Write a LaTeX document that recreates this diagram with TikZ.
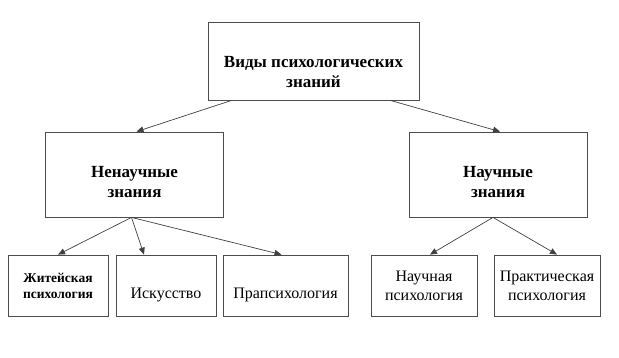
\documentclass[tikz,border=0pt]{standalone}
\usepackage{fontspec}
\setmainfont{Liberation Serif}
\usetikzlibrary{arrows.meta}

\begin{document}
\begin{tikzpicture}[x=1pt, y=-1pt,
    box/.style={rectangle, draw=black!70, line width=0.8pt, inner sep=0pt},
    topbox/.style={box, minimum width=211pt, minimum height=78pt},
    midbox/.style={box, minimum width=178pt, minimum height=85pt},
    lowbox/.style={box, minimum height=61pt},
    headtxt/.style={align=center, font=\fontsize{17}{20}\selectfont\bfseries},
    lowtxt/.style={align=center, font=\fontsize{16}{19}\selectfont},
    smalltxt/.style={align=center, font=\fontsize{13.5}{16}\selectfont\bfseries},
    link/.style={draw=black!75, line width=0.7pt, -{Triangle[length=7pt, width=6pt]}}]
    \useasboundingbox (0,0) rectangle (619,357);

    % boxes
    \node[topbox] (kinds) at (313.5,61) {};
    \node[midbox] (nonsci) at (134.5,174.5) {};
    \node[midbox] (sci) at (498,174.5) {};
    \node[lowbox, minimum width=100pt] (everyday) at (58,285.5) {};
    \node[lowbox, minimum width=100pt] (art) at (166,285.5) {};
    \node[lowbox, minimum width=125pt] (para) at (285.5,285.5) {};
    \node[lowbox, minimum width=106pt] (scipsy) at (424,285.5) {};
    \node[lowbox, minimum width=106pt] (practice) at (547,285.5) {};

    % texts
    \node[headtxt] (kinds-t) at (313.5,72.5) {Виды психологических\\знаний};
    \node[headtxt] (nonsci-t) at (134.5,182) {Ненаучные\\знания};
    \node[headtxt] (sci-t) at (498,182) {Научные\\знания};
    \node[smalltxt] (everyday-t) at (58,286) {Житейская\\психология};
    \node[lowtxt] (art-t) at (166,295) {Искусство};
    \node[lowtxt] (para-t) at (285.5,295) {Прапсихология};
    \node[lowtxt] (scipsy-t) at (424,286) {Научная\\психология};
    \node[lowtxt] (practice-t) at (547,286) {Практическая\\психология};

    % arrows
    \draw[link] ([xshift=24pt]kinds.south west) -- ([xshift=2pt]nonsci.north);
    \draw[link] ([xshift=-29pt]kinds.south east) -- ([xshift=2pt]sci.north);
    \draw[link] ([xshift=-3pt]nonsci.south) -- (everyday.north);
    \draw[link] ([xshift=-3pt]nonsci.south) -- ([xshift=-22pt]art.north);
    \draw[link] ([xshift=-3pt]nonsci.south) -- ([xshift=-4pt]para.north);
    \draw[link] ([xshift=-5pt]sci.south) -- ([xshift=6pt]scipsy.north);
    \draw[link] ([xshift=-5pt]sci.south) -- ([xshift=10pt]practice.north);
\end{tikzpicture}
\end{document}
